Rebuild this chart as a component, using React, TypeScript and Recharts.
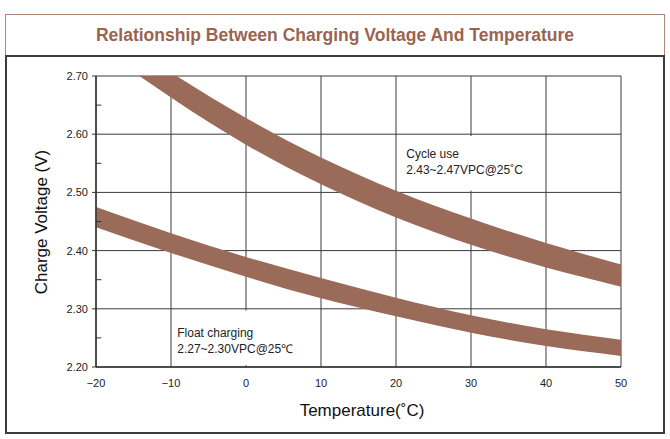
import React from "react"
import {
  ComposedChart,
  Area,
  XAxis,
  YAxis,
  CartesianGrid,
  ReferenceArea,
  ReferenceLine,
} from "recharts"

const temps = [-20, -10, 0, 10, 20, 30, 40, 50]
const cycleHigh = [2.79, 2.706, 2.628, 2.56, 2.503, 2.455, 2.413, 2.376]
const cycleLow = [2.752, 2.663, 2.582, 2.514, 2.457, 2.41, 2.371, 2.338]
const floatHigh = [2.475, 2.43, 2.389, 2.353, 2.319, 2.289, 2.265, 2.247]
const floatLow = [2.44, 2.396, 2.355, 2.318, 2.287, 2.259, 2.236, 2.219]

const xTicks = [-20, -10, 0, 10, 20, 30, 40, 50]
const yTicks = [2.2, 2.3, 2.4, 2.5, 2.6, 2.7]
const yMinorTicks = [2.25, 2.35, 2.45, 2.55, 2.65]

const cycleNote = ["Cycle use", "2.43~2.47VPC@25˚C"]
const floatNote = ["Float charging", "2.27~2.30VPC@25℃"]

const data = temps.map((t, i) => ({
  t,
  cycle: [cycleLow[i], cycleHigh[i]],
  float: [floatLow[i], floatHigh[i]],
}))

const BAND = "#9a6b58"
const FONT = "'Liberation Sans', Arial, sans-serif"

function noteLabel(lines: string[], dx: number, dy: number) {
  return (props: any) => {
    const vb = props.viewBox || {}
    return (
      <text x={vb.x + dx} y={vb.y + dy} fontSize={12} fill="#222" fontFamily={FONT}>
        {lines.map((l, i) => (
          <tspan key={i} x={vb.x + dx} dy={i === 0 ? 0 : 16}>
            {l}
          </tspan>
        ))}
      </text>
    )
  }
}

export default function App() {
  return (
    <div style={{ position: "absolute", left: 0, top: 0, width: 670, height: 439, background: "#fff", fontFamily: FONT }}>
      <div
        style={{
          position: "absolute",
          left: 5,
          top: 14,
          width: 658,
          height: 40,
          border: "1px solid #b08878",
          display: "flex",
          alignItems: "center",
          justifyContent: "center",
          color: "#9a6450",
          fontWeight: "bold",
          fontSize: 17.5,
        }}
      >
        Relationship Between Charging Voltage And Temperature
      </div>
      <div
        style={{
          position: "absolute",
          left: 5,
          top: 55,
          width: 656,
          height: 375,
          border: "2px solid #3c3c3c",
        }}
      />
      <div style={{ position: "absolute", left: 0, top: 0 }}>
        <ComposedChart width={670} height={439} data={data} margin={{ top: 76, right: 49, bottom: 42, left: 56 }}>
          <CartesianGrid stroke="#3a3a3a" strokeWidth={1} />
          <XAxis
            dataKey="t"
            type="number"
            domain={[-20, 50]}
            ticks={xTicks}
            tickLine={false}
            axisLine={{ stroke: "#333", strokeWidth: 1.5 }}
            tick={{ fontSize: 11, fill: "#222", fontFamily: FONT }}
            tickMargin={6}
            height={30}
            tickFormatter={(v: number) => String(v).replace("-", "−")}
          />
          <YAxis
            type="number"
            domain={[2.2, 2.7]}
            allowDataOverflow
            ticks={yTicks}
            tickSize={4}
            tickMargin={4}
            width={40}
            tickLine={{ stroke: "#333" }}
            axisLine={{ stroke: "#333", strokeWidth: 1.5 }}
            tick={{ fontSize: 11, fill: "#222", fontFamily: FONT }}
            tickFormatter={(v: number) => v.toFixed(2)}
          />
          {yMinorTicks.map((v) => (
            <ReferenceLine
              key={v}
              segment={[
                { x: -20, y: v },
                { x: -19.3, y: v },
              ]}
              stroke="#333"
            />
          ))}
          <ReferenceArea
            x1={20.3}
            x2={39.7}
            y1={2.503}
            y2={2.597}
            fill="#fff"
            fillOpacity={1}
            stroke="none"
            label={{ content: noteLabel(cycleNote, 8, 22) }}
          />
          <ReferenceArea
            x1={-9.7}
            x2={9.7}
            y1={2.203}
            y2={2.297}
            fill="#fff"
            fillOpacity={1}
            stroke="none"
            label={{ content: noteLabel(floatNote, 4, 26.5) }}
          />
          <Area dataKey="cycle" type="natural" stroke="none" fill={BAND} fillOpacity={1} isAnimationActive={false} />
          <Area dataKey="float" type="natural" stroke="none" fill={BAND} fillOpacity={1} isAnimationActive={false} />
        </ComposedChart>
      </div>
      <div
        style={{
          position: "absolute",
          left: 42,
          top: 222,
          transform: "translate(-50%, -50%) rotate(-90deg)",
          whiteSpace: "nowrap",
          fontSize: 17,
          color: "#111",
        }}
      >
        Charge Voltage (V)
      </div>
      <div
        style={{
          position: "absolute",
          left: 362,
          top: 411,
          transform: "translate(-50%, -50%)",
          whiteSpace: "nowrap",
          fontSize: 17,
          color: "#111",
        }}
      >
        Temperature(˚C)
      </div>
    </div>
  )
}
